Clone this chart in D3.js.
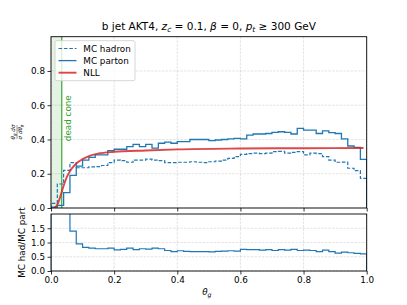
<!DOCTYPE html>
<html><head><meta charset="utf-8">
<script src="https://cdn.jsdelivr.net/npm/d3@7"></script>
<style>
body{margin:0;background:#fff}
svg{display:block;font-family:"DejaVu Sans",sans-serif}
</style></head>
<body><svg id="c" width="407" height="305"></svg>
<script>
// ---- data (50 bins of width 0.02 on theta_g in [0,1]) ----
const binEdges = d3.range(51).map(i => i / 50);
const mcParton = [0.005,0.015,0.09,0.19,0.245,0.28,0.296,0.31,0.31,0.335,
  0.343,0.343,0.358,0.372,0.358,0.372,0.349,0.378,0.385,0.378,
  0.387,0.387,0.40,0.40,0.40,0.393,0.397,0.40,0.403,0.407,
  0.403,0.426,0.432,0.432,0.435,0.442,0.445,0.442,0.432,0.465,
  0.455,0.455,0.435,0.45,0.44,0.435,0.403,0.362,0.354,0.284];
const mcHadron = [0.027,0.14,0.22,0.265,0.235,0.235,0.24,0.242,0.248,0.265,
  0.28,0.276,0.267,0.28,0.28,0.285,0.28,0.276,0.265,0.265,
  0.267,0.267,0.27,0.267,0.265,0.27,0.274,0.28,0.29,0.30,
  0.313,0.318,0.32,0.318,0.32,0.329,0.33,0.32,0.325,0.329,
  0.31,0.32,0.318,0.30,0.28,0.267,0.268,0.232,0.218,0.173];
const ratio = [5.4,9.3,2.44,1.40,0.95,0.83,0.80,0.78,0.78,0.80,
  0.74,0.76,0.80,0.75,0.78,0.77,0.80,0.78,0.72,0.68,
  0.71,0.69,0.68,0.68,0.68,0.67,0.69,0.70,0.71,0.70,
  0.76,0.75,0.75,0.73,0.75,0.72,0.75,0.73,0.76,0.72,
  0.73,0.72,0.68,0.73,0.68,0.63,0.66,0.64,0.62,0.60];
const nllTheta = [0.01,0.02,0.03,0.04,0.05,0.06,0.07,0.08,0.10,0.12,0.15,0.20,0.30,0.40,0.60,0.80,0.99];
const nllValue = [0.0,0.02,0.07,0.13,0.18,0.215,0.24,0.26,0.285,0.303,0.318,0.328,0.336,0.342,0.347,0.349,0.35];
const deadCone = 0.034;
const xTicks = [0,0.2,0.4,0.6,0.8,1.0];
const yMainTicks = [0,0.2,0.4,0.6,0.8];
const yRatioTicks = [0,0.5,1.0,1.5];
const legendLabels = ["MC hadron","MC parton","NLL"];

// ---- layout ----
const L = 51, R = 366.7, mT = 36.7, mB = 208, rT = 214, rB = 271;
const blue = "#1f77b4", red = "#d62728", green = "#2ca02c";
const fs = 8.8;

const svg = d3.select("#c");
const x = d3.scaleLinear().domain([0,1]).range([L,R]);
const yM = d3.scaleLinear().domain([0,1]).range([mB,mT]);
const yR = d3.scaleLinear().domain([0,2]).range([rB,rT]);

const defs = svg.append("defs");
defs.append("clipPath").attr("id","cm").append("rect").attr("x",L).attr("y",mT).attr("width",R-L).attr("height",mB-mT);
defs.append("clipPath").attr("id","cr").append("rect").attr("x",L).attr("y",rT).attr("width",R-L).attr("height",rB-rT);

function grid(g, yS, yt, top, bot){
  g.selectAll(".gx").data(xTicks).join("line")
    .attr("x1",d=>x(d)).attr("x2",d=>x(d)).attr("y1",top).attr("y2",bot)
    .attr("stroke","#b0b0b0").attr("stroke-opacity",0.45).attr("stroke-width",0.8).attr("stroke-dasharray","2.5,1.2");
  g.selectAll(".gy").data(yt).join("line")
    .attr("x1",L).attr("x2",R).attr("y1",d=>yS(d)).attr("y2",d=>yS(d))
    .attr("stroke","#b0b0b0").attr("stroke-opacity",0.45).attr("stroke-width",0.8).attr("stroke-dasharray","2.5,1.2");
}
grid(svg.append("g"), yM, yMainTicks, mT, mB);
grid(svg.append("g"), yR, yRatioTicks, rT, rB);

// dead cone
svg.append("rect").attr("x",x(0)).attr("y",mT).attr("width",x(deadCone)-x(0)).attr("height",mB-mT)
  .attr("fill",green).attr("fill-opacity",0.12);
svg.append("line").attr("x1",x(deadCone)).attr("x2",x(deadCone)).attr("y1",mT).attr("y2",mB)
  .attr("stroke",green).attr("stroke-width",1.3).attr("stroke-opacity",0.85);
svg.append("text").attr("transform",`translate(${x(deadCone)+9.5},${yM(0.39)}) rotate(-90)`)
  .attr("fill",green).attr("font-size",fs).text("dead cone");

// step histogram helper
function stepPts(vals){
  const pts = [[binEdges[0],0]];
  vals.forEach((v,i)=>{ pts.push([binEdges[i],v]); pts.push([binEdges[i+1],v]); });
  pts.push([binEdges[binEdges.length-1],0]);
  return pts;
}
const lineM = d3.line().x(d=>x(d[0])).y(d=>yM(d[1]));
const lineR = d3.line().x(d=>x(d[0])).y(d=>yR(d[1]));

const gm = svg.append("g").attr("clip-path","url(#cm)");
gm.append("path").attr("d",lineM(stepPts(mcHadron))).attr("fill","none").attr("stroke",blue)
  .attr("stroke-width",1.2).attr("stroke-dasharray","3.6,1.8");
gm.append("path").attr("d",lineM(stepPts(mcParton))).attr("fill","none").attr("stroke",blue)
  .attr("stroke-width",1.3);
const nllLine = d3.line().x(d=>x(d[0])).y(d=>yM(d[1])).curve(d3.curveMonotoneX);
gm.append("path").attr("d",nllLine(nllTheta.map((t,i)=>[t,nllValue[i]]))).attr("fill","none")
  .attr("stroke",red).attr("stroke-width",1.9).attr("stroke-opacity",0.85);

const gr = svg.append("g").attr("clip-path","url(#cr)");
gr.append("path").attr("d",lineR(stepPts(ratio))).attr("fill","none").attr("stroke",blue).attr("stroke-width",1.2);

// frames
svg.append("rect").attr("x",L).attr("y",mT).attr("width",R-L).attr("height",mB-mT).attr("fill","none").attr("stroke","#000").attr("stroke-width",0.9);
svg.append("rect").attr("x",L).attr("y",rT).attr("width",R-L).attr("height",rB-rT).attr("fill","none").attr("stroke","#000").attr("stroke-width",0.9);

// axes
function styleAxis(g){
  g.select(".domain").remove();
  g.selectAll(".tick line").attr("stroke","#000").attr("stroke-width",0.8);
  g.selectAll(".tick text").attr("font-size",fs).attr("font-family","DejaVu Sans").attr("fill","#000");
}
svg.append("g").attr("transform",`translate(0,${mB})`)
  .call(d3.axisBottom(x).tickValues(xTicks).tickSize(3.5).tickFormat(""))
  .call(styleAxis);
svg.append("g").attr("transform",`translate(0,${rB})`)
  .call(d3.axisBottom(x).tickValues(xTicks).tickSize(3.5).tickPadding(2.5).tickFormat(d3.format(".1f")))
  .call(styleAxis);
svg.append("g").attr("transform",`translate(${L},0)`)
  .call(d3.axisLeft(yM).tickValues(yMainTicks).tickSize(3.5).tickPadding(2.5).tickFormat(d3.format(".1f")))
  .call(styleAxis);
svg.append("g").attr("transform",`translate(${L},0)`)
  .call(d3.axisLeft(yR).tickValues(yRatioTicks).tickSize(3.5).tickPadding(2.5).tickFormat(d3.format(".1f")))
  .call(styleAxis);

// title
const title = svg.append("text").attr("x",(L+R)/2).attr("y",29.5).attr("text-anchor","middle").attr("font-size",10.5);
title.append("tspan").text("b jet AKT4, ");
title.append("tspan").attr("font-style","italic").text("z");
title.append("tspan").attr("font-size",7.5).attr("dy",2).attr("font-style","italic").text("c");
title.append("tspan").attr("dy",-2).text(" = 0.1, ");
title.append("tspan").attr("font-style","italic").text("β");
title.append("tspan").text(" = 0, ");
title.append("tspan").attr("font-style","italic").text("p");
title.append("tspan").attr("font-size",7.5).attr("dy",2).attr("font-style","italic").text("t");
title.append("tspan").attr("dy",-2).text(" ≥ 300 GeV");

// x label
const xl = svg.append("text").attr("x",(L+R)/2-2).attr("y",294.5).attr("text-anchor","middle").attr("font-size",fs);
xl.append("tspan").attr("font-style","italic").text("θ");
xl.append("tspan").attr("font-style","italic").attr("font-size",6.2).attr("dy",2).text("g");

// main y label (fraction)
const yl = svg.append("g").attr("transform","translate(17,132) rotate(-90)").attr("font-size",5.6).attr("font-style","italic");
const num = yl.append("text").attr("x",0).attr("y",-1.8).attr("text-anchor","middle");
num.append("tspan").text("θ");
num.append("tspan").attr("font-size",4).attr("dy",1).text("g");
num.append("tspan").attr("dy",-1).text(" dσ");
yl.append("line").attr("x1",-7).attr("x2",7).attr("y1",0).attr("y2",0).attr("stroke","#000").attr("stroke-width",0.4);
const den = yl.append("text").attr("x",0).attr("y",5.2).attr("text-anchor","middle");
den.append("tspan").text("σ dθ");
den.append("tspan").attr("font-size",4).attr("dy",1).text("g");

// ratio y label
svg.append("text").attr("transform",`translate(25,${(rT+rB)/2}) rotate(-90)`).attr("text-anchor","middle")
  .attr("font-size",fs).text("MC had/MC part");

// legend
const lg = svg.append("g");
lg.append("rect").attr("x",55).attr("y",40.7).attr("width",80).attr("height",40).attr("rx",2)
  .attr("fill","#fff").attr("fill-opacity",0.8).attr("stroke","#cccccc").attr("stroke-width",0.8);
const legStyles = [
  {c:blue,w:1.2,d:"3.6,1.8",o:1},
  {c:blue,w:1.3,d:null,o:1},
  {c:red,w:1.9,d:null,o:0.85}
];
legendLabels.forEach((lab,i)=>{
  const yy = 48.5 + i*12.1;
  lg.append("line").attr("x1",58.5).attr("x2",76.5).attr("y1",yy).attr("y2",yy)
    .attr("stroke",legStyles[i].c).attr("stroke-width",legStyles[i].w)
    .attr("stroke-dasharray",legStyles[i].d).attr("stroke-opacity",legStyles[i].o);
  lg.append("text").attr("x",83.3).attr("y",yy+3.1).attr("font-size",fs).text(lab);
});
</script></body></html>
